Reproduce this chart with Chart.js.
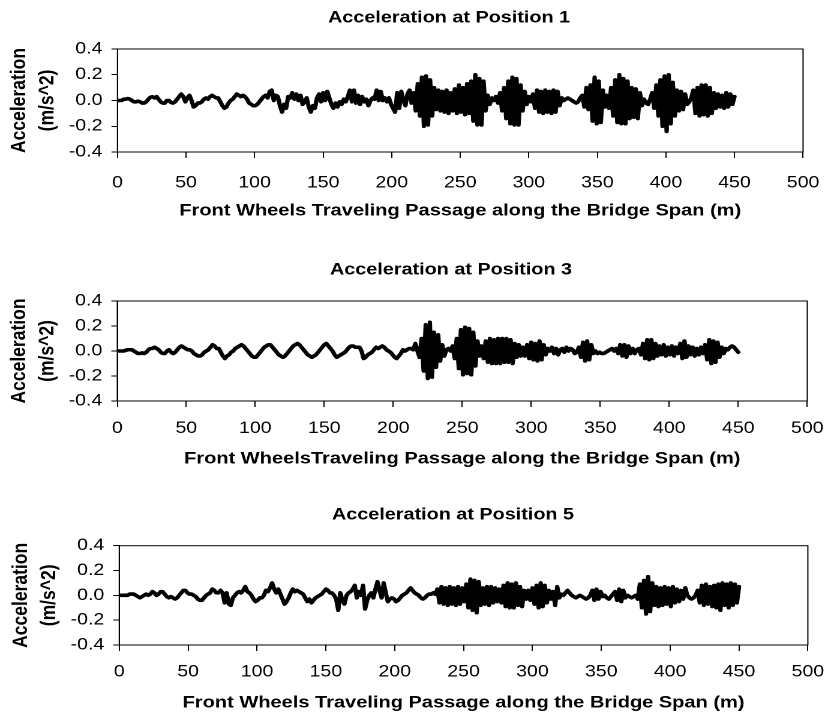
<!DOCTYPE html>
<html>
<head>
<meta charset="utf-8">
<script src="https://cdn.jsdelivr.net/npm/chart.js@4/dist/chart.umd.min.js"></script>
<style>
  html, body { margin: 0; padding: 0; background: #fff; width: 837px; height: 718px; overflow: hidden; }
  .panel { position: absolute; left: 0; width: 698px; transform: scaleX(1.2); transform-origin: 0 0; }
</style>
</head>
<body>
<div class="panel" style="top:0;height:240px"><canvas id="pos1"></canvas></div>
<div class="panel" style="top:240px;height:240px"><canvas id="pos3"></canvas></div>
<div class="panel" style="top:480px;height:238px"><canvas id="pos5"></canvas></div>
<script>
// Front-wheel position along the span: one sample every 1.5 m, 0 to 450 m
const SAMPLE_STEP_M = 1.5;
const distance = Array.from({ length: 301 }, (_, i) => i * SAMPLE_STEP_M);

// Acceleration (m/s^2) at position 1
const accelPos1 = [
  0,0,0,.01,.01,.015,.01,0,-.01,-.01,-.005,-.01,-.02,-.02,-.01,.01,.025,.03,.02,.03,
  .01,-.01,-.02,-.02,0,0,-.015,-.02,-.01,.01,.03,.05,.03,-.01,.02,.04,0,-.05,-.04,-.02,
  -.02,-.01,.01,.02,.01,.03,.04,.03,.02,.02,-.01,-.04,-.06,-.05,-.02,0,.01,.03,.05,.04,
  .03,.04,.03,.01,-.02,-.03,-.04,-.04,-.03,-.01,.01,.03,.04,.02,.07,.08,0,.04,.03,-.04,
  -.09,-.03,-.06,.03,.02,.06,.01,.05,0,.04,-.03,-.01,.02,-.05,-.09,-.04,-.06,.02,.05,-.01,
  .06,0,.07,.02,-.03,-.06,-.02,-.05,-.01,-.03,.01,-.01,.03,.08,-.01,.08,-.02,.04,-.03,.03,
  -.01,.01,-.04,0,.02,.01,.08,0,.07,0,.02,-.01,.02,-.03,-.06,-.09,.06,-.06,.07,0,
  -.04,.05,.08,-.02,.06,-.08,.13,-.12,.18,-.2,.19,-.19,.16,-.12,.1,-.07,.08,-.08,.07,-.09,
  .08,-.1,.06,-.08,.09,-.1,.12,-.09,.1,-.11,.13,-.1,.15,-.16,.2,-.19,.17,-.19,.15,-.08,
  .04,-.03,.02,0,.03,-.02,.06,-.08,.1,-.14,.15,-.18,.18,-.19,.17,-.19,.12,-.08,.07,-.03,
  .03,-.01,.05,-.06,.08,-.09,.07,-.1,.08,-.09,.07,-.1,.08,-.09,.07,-.04,.02,0,.01,.02,
  .01,0,-.01,-.02,-.01,.02,.04,-.05,.1,-.07,.12,-.16,.18,-.18,.15,-.17,.08,-.05,.04,-.06,
  .1,-.12,.16,-.17,.2,-.18,.17,-.18,.15,-.14,.1,-.13,.09,-.14,.06,-.04,.01,-.02,-.03,.01,
  .06,-.06,.12,-.12,.16,-.2,.19,-.24,.2,-.18,.14,-.12,.08,-.08,.07,-.07,.05,-.03,-.01,.02,
  .08,-.1,.1,-.12,.12,-.11,.12,-.12,.1,-.1,.06,-.06,.05,-.05,.04,-.06,.06,-.05,.05,-.03,
  .03
];

// Acceleration (m/s^2) at position 3
const accelPos3 = [
  0,0,0,0,.005,.01,.01,.01,0,-.01,-.02,-.02,-.015,-.02,-.01,.01,.02,.02,.03,.02,
  .01,-.01,-.02,-.02,0,.01,-.01,-.02,-.01,.01,.03,.04,.03,.02,.01,.01,0,-.02,-.03,-.04,
  -.04,-.03,-.01,0,.01,.03,.05,.04,.02,.02,-.01,-.04,-.06,-.04,-.03,-.01,0,.02,.03,.04,
  .05,.04,.02,0,-.02,-.04,-.05,-.05,-.03,-.01,.01,.03,.04,.05,.05,.03,.01,-.01,-.03,-.04,
  -.05,-.04,-.02,0,.02,.04,.05,.06,.05,.03,.01,-.01,-.03,-.04,-.05,-.04,-.03,-.01,.01,.03,
  .05,.06,.04,.02,0,-.03,-.05,-.04,-.03,-.02,-.01,.01,.03,.04,.04,.03,.03,.03,0,-.06,
  -.05,-.03,-.02,-.01,.01,.03,.02,.03,.04,.03,.01,0,-.01,-.03,-.05,-.06,-.04,-.02,.01,0,
  .01,.02,.02,.01,.06,0,-.05,.1,-.16,.21,-.22,.23,-.21,.15,-.13,.13,-.08,.05,-.04,.01,
  .02,0,.04,-.06,.1,-.14,.17,-.19,.19,-.18,.18,-.19,.15,-.12,.08,-.04,.04,-.06,.08,-.09,
  .1,-.1,.09,-.1,.1,-.1,.1,-.09,.1,-.09,.09,-.1,.06,-.05,.05,-.04,.03,-.04,.05,-.06,
  .07,-.07,.06,-.08,.08,-.07,.05,-.03,.02,0,.03,-.02,.02,-.03,.01,.02,-.01,.03,0,.02,
  .01,-.02,-.01,.03,-.05,.07,-.08,.08,-.07,.05,-.02,0,-.02,-.01,-.02,-.02,-.01,0,.01,.02,
  0,.02,-.02,.05,-.04,.05,-.05,.04,-.02,.02,-.02,.01,.02,-.03,.06,-.06,.09,-.07,.09,-.06,
  .06,-.04,.04,-.03,.05,-.04,.03,-.03,.04,-.04,.03,-.02,.06,-.06,.08,-.05,.04,-.03,.03,-.04,
  .02,-.03,.03,-.02,.05,-.07,.09,-.1,.08,-.09,.07,-.05,.03,-.02,.02,.01,.03,.04,.03,.01,
  -.01
];

// Acceleration (m/s^2) at position 5
const accelPos5 = [
  0,0,0,0,0,.01,.01,.01,0,-.01,-.02,-.01,0,.01,0,.01,.03,.02,0,.01,
  .03,.03,.01,-.01,-.02,-.01,-.02,-.03,-.02,0,.02,.04,.04,.02,.01,.01,0,-.01,-.03,-.04,
  -.04,-.02,0,.01,.02,.05,.04,.02,.02,.04,.02,-.06,.02,-.07,-.08,-.02,0,.02,.03,.02,
  .04,.07,.03,.02,0,-.03,-.05,-.04,-.02,-.02,0,.04,.03,.06,.1,.05,.02,.05,.01,-.03,
  -.07,-.05,-.02,.02,.05,.03,.04,.03,.02,.01,-.02,-.05,-.03,-.06,-.04,-.02,-.01,0,.01,.03,
  .05,.04,.02,.02,0,-.03,-.12,.02,-.04,-.07,0,.02,.03,.05,.08,-.02,.03,0,.08,-.11,
  -.04,0,.02,-.02,.05,.11,.04,-.02,.1,.02,-.05,-.03,-.02,-.03,-.05,-.04,-.02,0,.01,.02,
  .04,.06,.04,.02,.01,0,-.02,-.03,-.02,0,.01,.01,.02,.01,.05,-.06,.07,-.07,.06,-.08,
  .07,-.07,.06,-.08,.07,-.07,.06,-.05,.09,-.1,.13,-.12,.12,-.14,.11,-.08,.06,-.07,.07,-.08,
  .07,-.06,.06,-.05,.05,-.06,.08,-.09,.1,-.1,.09,-.1,.1,-.08,.07,-.09,.04,-.03,.04,-.04,
  .06,-.07,.08,-.1,.1,-.09,.08,-.06,.04,-.03,.03,-.08,.07,-.02,.01,0,.02,.04,.02,0,
  -.01,-.02,-.01,0,-.01,-.02,-.03,-.02,0,.04,-.04,.05,-.03,.03,-.01,0,-.02,-.03,-.01,.01,
  .03,-.04,.05,-.05,.04,-.02,0,-.01,-.02,-.01,0,-.03,.09,-.1,.12,-.15,.15,-.13,.1,-.08,
  .07,-.09,.06,-.08,.07,-.07,.06,-.09,.07,-.06,.05,-.05,.04,-.03,.06,0,-.02,-.03,-.02,0,
  .04,-.06,.08,-.08,.09,-.07,.07,-.09,.08,-.1,.09,-.12,.1,-.08,.09,-.1,.1,-.08,.09,-.06,
  .07
];

const xTicks = [0, 50, 100, 150, 200, 250, 300, 350, 400, 450, 500];
const yTicks = [-0.4, -0.2, 0, 0.2, 0.4];

const panelTitles = ['Acceleration at Position 1', 'Acceleration at Position 3', 'Acceleration at Position 5'];
const xTitles = [
  'Front Wheels Traveling Passage along the Bridge Span (m)',
  'Front WheelsTraveling Passage along the Bridge Span (m)',
  'Front Wheels Traveling Passage along the Bridge Span (m)'
];
const yTitle = ['Acceleration', '(m/s^2)'];

const FONT = '"Liberation Sans", Arial, Helvetica, sans-serif';
const W = 698;

// Plot-box frame and centred heading for each panel
const panelDecor = {
  id: 'panelDecor',
  afterDraw(chart, args, opts) {
    const { ctx, chartArea: a } = chart;
    ctx.save();
    ctx.strokeStyle = '#000';
    ctx.lineWidth = 1;
    ctx.strokeRect(a.left, a.top, a.right - a.left, a.bottom - a.top);
    ctx.fillStyle = '#000';
    ctx.font = 'bold 16.5px ' + FONT;
    ctx.textAlign = 'center';
    ctx.textBaseline = 'middle';
    ctx.fillText(opts.text, opts.x, opts.y);
    ctx.restore();
  }
};

function drawPanel(canvasId, values, title, xTitle, L) {
  const points = values.map((v, i) => ({ x: distance[i], y: v }));
  new Chart(document.getElementById(canvasId), {
    type: 'line',
    data: {
      datasets: [{
        data: points,
        borderColor: '#000',
        borderWidth: 3.6,
        pointRadius: 0,
        tension: 0,
        fill: false,
        borderJoinStyle: 'round',
        borderCapStyle: 'round'
      }]
    },
    options: {
      responsive: true,
      maintainAspectRatio: false,
      devicePixelRatio: 2,
      animation: false,
      events: [],
      layout: { padding: { left: 0, top: L.plotTop, right: W - L.plotRight, bottom: 0 } },
      plugins: {
        legend: { display: false },
        tooltip: { enabled: false },
        panelDecor: { text: title, x: L.titleX, y: L.titleY }
      },
      scales: {
        x: {
          type: 'linear',
          min: 0,
          max: 500,
          afterBuildTicks: s => { s.ticks = xTicks.map(v => ({ value: v })); },
          afterFit: s => { s.height = L.H - L.plotBottom; },
          ticks: {
            color: '#000', font: { family: FONT, size: 16.3 }, padding: L.xTickPad,
            autoSkip: false, maxRotation: 0, callback: v => String(v)
          },
          grid: { drawOnChartArea: false, drawTicks: true, tickLength: 6, color: '#000', lineWidth: 1 },
          border: { display: true, color: '#000', width: 1 },
          title: {
            display: true, text: xTitle, color: '#000',
            font: { family: FONT, size: 16.7, weight: 'bold' },
            padding: { top: 0, bottom: L.xTitlePad }
          }
        },
        y: {
          min: -0.4,
          max: 0.4,
          afterBuildTicks: s => { s.ticks = yTicks.map(v => ({ value: v })); },
          afterFit: s => { s.width = L.plotLeft; },
          ticks: {
            color: '#000', font: { family: FONT, size: 16.3 }, padding: 7.5,
            callback: v => v.toFixed(1)
          },
          grid: { drawOnChartArea: false, drawTicks: true, tickLength: 5, color: '#000', lineWidth: 1 },
          border: { display: true, color: '#000', width: 1 },
          title: {
            display: true, text: yTitle, color: '#000',
            font: { family: FONT, size: 17.5, weight: 'bold', lineHeight: 1.34 },
            padding: { top: L.yTitlePad, bottom: 0 }
          }
        }
      }
    },
    plugins: [panelDecor]
  });
}

drawPanel('pos1', accelPos1, panelTitles[0], xTitles[0], {
  H: 240, plotLeft: 97.9, plotRight: 680.6, plotTop: 49, plotBottom: 152,
  titleX: 374.2, titleY: 18, xTickPad: 15.2, xTitlePad: 19, yTitlePad: 4.3
});
drawPanel('pos3', accelPos3, panelTitles[1], xTitles[1], {
  H: 240, plotLeft: 97.75, plotRight: 681.4, plotTop: 61, plotBottom: 161,
  titleX: 375.8, titleY: 30, xTickPad: 11.7, xTitlePad: 11, yTitlePad: 4.3
});
drawPanel('pos5', accelPos5, panelTitles[2], xTitles[2], {
  H: 238, plotLeft: 99.4, plotRight: 682.75, plotTop: 65.7, plotBottom: 165,
  titleX: 377.5, titleY: 35, xTickPad: 11.2, xTitlePad: 5, yTitlePad: 6
});
</script>
</body>
</html>
